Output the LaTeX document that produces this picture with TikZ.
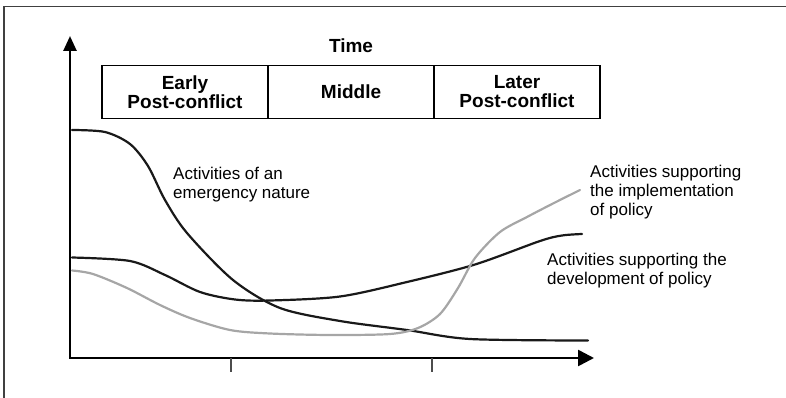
\documentclass[tikz,border=0pt]{standalone}
\usepackage{fontspec}
\setmainfont{Liberation Sans}
\usetikzlibrary{arrows.meta}
\begin{document}
\begin{tikzpicture}[x=1pt,y=-1pt,
  axis/.style={line width=2.6pt,black},
  tick/.style={line width=1.2pt,black!70},
  curve/.style={line width=2.2pt,black!90,line cap=round},
  greycurve/.style={curve,black!35},
  cell/.style={draw,line width=1.3pt,minimum width=166pt,minimum height=52.5pt,inner sep=0pt,align=center,font=\fontsize{19}{19}\selectfont\bfseries},
  lbl/.style={anchor=north west,inner sep=0pt,align=left,font=\fontsize{17}{19}\selectfont}]
 \useasboundingbox (0,0) rectangle (786,398);
 \draw[line width=1.4pt,black!75] (4,398) -- (4,6.5) -- (786,6.5);
 %
 \coordinate (O) at (70,358);
 \coordinate (ytip) at (70,36);
 \coordinate (xtip) at (594,358);
 \draw[axis,{Triangle[length=15pt,width=13pt]}-{Triangle[length=16pt,width=16pt]}] (ytip) -- (O) -- (xtip);
 \foreach \t in {231,432} \draw[tick] (\t,358) -- (\t,372);
 %
 \node[font=\fontsize{19}{19}\selectfont\bfseries] (time) at (351,46) {Time};
 \node[cell] (early) at (185,92) {Early\\Post-conflict};
 \node[cell] (middle) at (351,92) {Middle};
 \node[cell] (later) at (517,92) {Later\\Post-conflict};
 %
 \draw[curve] plot[smooth] coordinates {(72,130) (105,132) (130,144) (148,166) (165,200) (187,233) (233,280) (280,308) (340,321) (407,330) (470,339) (588,340.5)};
 \draw[curve] plot[smooth] coordinates {(72,257.5) (130,261) (165,275) (200,292) (235,299.5) (270,300.5) (340,296.5) (407,282) (475,264.5) (540,241) (562,235.5) (582,234)};
 \draw[greycurve] plot[smooth] coordinates {(72,270.5) (93,274) (127,288) (160,305) (190,318) (230,330) (270,333.5) (330,335) (390,334) (418,328) (440,314) (458,288) (475,258) (500,232) (527,217) (553,203.5) (580,190)};
 %
 \node[lbl] (emerg) at (173,166.5) {Activities of an\\emergency nature};
 \node[lbl] (impl) at (590,165) {Activities supporting\\the implementation\\of policy};
 \node[lbl] (devel) at (547,252.5) {Activities supporting the\\development of policy};
\end{tikzpicture}
\end{document}
